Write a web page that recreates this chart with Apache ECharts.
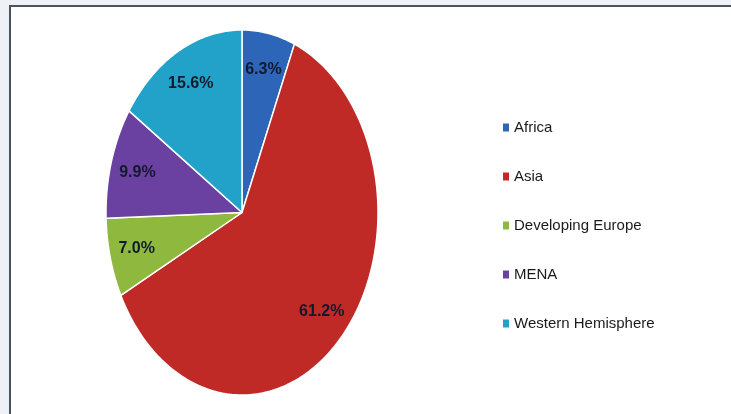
<!DOCTYPE html>
<html><head><meta charset="utf-8">
<script src="https://cdn.jsdelivr.net/npm/echarts@6/dist/echarts.min.js"></script>
<style>
html,body{margin:0;padding:0;background:#eef2f6;width:731px;height:414px;overflow:hidden;}
#frame{position:absolute;left:9px;top:5px;width:760px;height:430px;border-top:2px solid #4b545e;border-left:2px solid #4b545e;background:#fff;}
#chart{position:absolute;left:0;top:0;width:731px;height:414px;}
</style></head><body>
<div id="frame"></div><div id="chart"></div>
<script>
const categories = ['Africa', 'Asia', 'Developing Europe', 'MENA', 'Western Hemisphere'];
const shares = [6.3, 61.2, 7.0, 9.9, 15.6];

const colors = ['#2d65b8', '#bf2a27', '#8fb83f', '#6a41a1', '#22a2c9'];
const total = shares.reduce((a, b) => a + b, 0);

function makeRender(i) {
  return function (params, api) {
    let start = 0;
    for (let k = 0; k < i; k++) start += shares[k];
    const v = api.value(0);
    const a0 = start / total * 2 * Math.PI;
    const a1 = (start + v) / total * 2 * Math.PI;
    const pts = [api.coord([0, 0])];
    const n = Math.max(2, Math.ceil((a1 - a0) / (Math.PI / 180)));
    for (let j = 0; j <= n; j++) {
      const a = a0 + (a1 - a0) * j / n;
      pts.push(api.coord([Math.sin(a), Math.cos(a)]));
    }
    const am = (a0 + a1) / 2, f = 0.8;
    const lp = api.coord([f * Math.sin(am), f * Math.cos(am)]);
    return {
      type: 'group',
      children: [
        { type: 'polygon', shape: { points: pts }, style: { fill: colors[i], stroke: '#ffffff', lineWidth: 1.5, lineJoin: 'round' } },
        { type: 'text', x: lp[0], y: lp[1], z2: 10,
          style: { text: v.toFixed(1) + '%', fill: '#111a2c', font: 'bold 16px "Liberation Sans", Arial, sans-serif', align: 'center', verticalAlign: 'middle' } }
      ]
    };
  };
}

const chart = echarts.init(document.getElementById('chart'), null, { renderer: 'canvas' });
chart.setOption({
  animation: false,
  color: colors,
  grid: { left: 106, top: 30, width: 272, height: 365 },
  xAxis: { type: 'value', min: -1, max: 1, show: false },
  yAxis: { type: 'value', min: -1, max: 1, show: false },
  legend: {
    data: categories,
    orient: 'vertical',
    left: 498, top: 115,
    icon: 'rect', itemWidth: 6, itemHeight: 8, itemGap: 34,
    textStyle: { color: '#1a1a1a', fontSize: 15, fontFamily: '"Liberation Sans", Arial, sans-serif' }
  },
  series: categories.map((name, i) => ({
    type: 'custom',
    name: name,
    itemStyle: { color: colors[i] },
    renderItem: makeRender(i),
    data: [[shares[i]]],
    silent: true
  }))
});
</script>
</body></html>
